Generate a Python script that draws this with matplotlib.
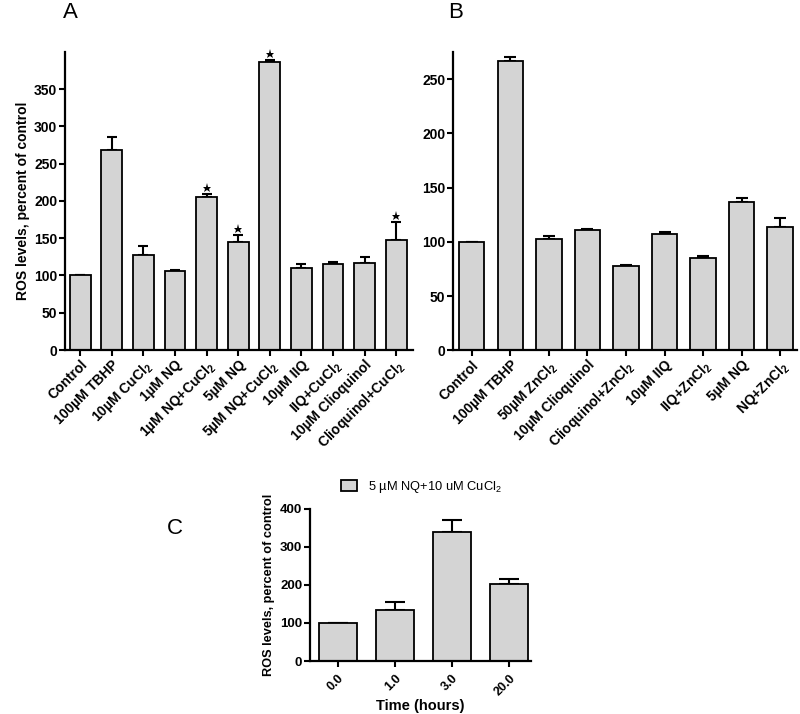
import matplotlib
matplotlib.use('Agg')
import matplotlib.pyplot as plt
from matplotlib.patches import Patch
import numpy as np

plt.rcParams['font.family'] = ['Liberation Sans', 'DejaVu Sans']
plt.rcParams['mathtext.fontset'] = 'custom'
plt.rcParams['mathtext.rm'] = 'Liberation Sans:bold'
plt.rcParams['mathtext.sf'] = 'Liberation Sans'
plt.rcParams['mathtext.default'] = 'rm'

# panel A
labels_a = ['Control', '100µM TBHP', '10µM CuCl$_2$', '1µM NQ', '1µM NQ+CuCl$_2$',
            '5µM NQ', '5µM NQ+CuCl$_2$', '10µM IIQ', 'IIQ+CuCl$_2$',
            '10µM Clioquinol', 'Clioquinol+CuCl$_2$']
vals_a = [100, 269, 127, 105.5, 205.5, 145.5, 386, 110.5, 115.5, 117, 147.5]
err_a = [0, 17, 12, 2, 3.5, 8.5, 3.5, 5, 2, 7.5, 24.5]
star_a = [4, 5, 6, 10]

# panel B
labels_b = ['Control', '100µM TBHP', '50µM ZnCl$_2$', '10µM Clioquinol',
            'Clioquinol+ZnCl$_2$', '10µM IIQ', 'IIQ+ZnCl$_2$', '5µM NQ', 'NQ+ZnCl$_2$']
vals_b = [100, 267, 103, 111, 78, 107.3, 85.4, 136.5, 114]
err_b = [0, 3, 2, 1, 1, 2, 1.6, 4.3, 8]

# panel C
labels_c = ['0.0', '1.0', '3.0', '20.0']
vals_c = [100, 134, 339, 201]
err_c = [0, 22, 32, 15]

bar_color = '#d4d4d4'


def draw_bars(ax, labels, vals, errs, capsize, ylim, yticks, xlim, fs_x, fs_y, xpad=1.5):
    x = np.arange(len(vals))
    ax.bar(x, vals, width=0.66, color=bar_color, edgecolor='black', linewidth=1.3, zorder=2)
    ax.errorbar(x, vals, yerr=[np.zeros(len(errs)), errs], fmt='none', ecolor='black',
                elinewidth=1.5, capsize=capsize, capthick=1.5, zorder=1)
    ax.set_xlim(*xlim)
    ax.set_ylim(*ylim)
    ax.set_yticks(yticks)
    ax.set_xticks(x)
    ax.set_xticklabels(labels, rotation=45, ha='right', rotation_mode='anchor',
                       fontsize=fs_x, fontweight='bold')
    for t in ax.get_yticklabels():
        t.set_fontweight('bold')
        t.set_fontsize(fs_y)
    ax.spines['top'].set_visible(False)
    ax.spines['right'].set_visible(False)
    ax.spines['left'].set_linewidth(1.6)
    ax.spines['bottom'].set_linewidth(1.6)
    ax.tick_params(axis='both', direction='out', length=4, width=1.5, pad=1.5)
    ax.tick_params(axis='x', pad=xpad)
    return x


fig = plt.figure(figsize=(8, 7.14), dpi=100)

ax_a = fig.add_axes([0.08125, 0.5098, 0.435, 0.4174])
xa = draw_bars(ax_a, labels_a, vals_a, err_a, 3.9, (0, 400), range(0, 351, 50),
               (-0.48, 10.53), 10, 10)
for i in star_a:
    ax_a.plot(xa[i], vals_a[i] + err_a[i] + 8, marker='*', color='black', ms=6.5, mew=0,
              clip_on=False)
ax_a.set_ylabel('ROS levels, percent of control', fontsize=10, fontweight='bold', labelpad=3)

ax_b = fig.add_axes([0.566, 0.5094, 0.430, 0.4178])
draw_bars(ax_b, labels_b, vals_b, err_b, 4.6, (0, 275), range(0, 251, 50),
          (-0.49, 8.43), 10, 10)

ax_c = fig.add_axes([0.3875, 0.0742, 0.276, 0.2133])
draw_bars(ax_c, labels_c, vals_c, err_c, 7.2, (0, 400), range(0, 401, 100),
          (-0.49, 3.38), 9, 9.5, xpad=4)
ax_c.set_ylabel('ROS levels, percent of control', fontsize=9.2, fontweight='bold', labelpad=4)
ax_c.set_xlabel('Time (hours)', fontsize=10.5, fontweight='bold', labelpad=1)

handle = Patch(facecolor=bar_color, edgecolor='black', linewidth=1.3)
fig.legend([handle], ['5 µM NQ+10 uM CuCl$\\mathsf{_2}$'], loc='center left',
           bbox_to_anchor=(0.4185, 0.318), frameon=False, fontsize=9.3,
           handlelength=1.2, handleheight=1.0, handletextpad=0.9, borderpad=0)

fig.text(0.0875, 0.983, 'A', fontsize=16, ha='center', va='center')
fig.text(0.569, 0.983, 'B', fontsize=16, ha='center', va='center')
fig.text(0.219, 0.2605, 'C', fontsize=16, ha='center', va='center')

plt.savefig('out.png', dpi=100)
plt.close()
